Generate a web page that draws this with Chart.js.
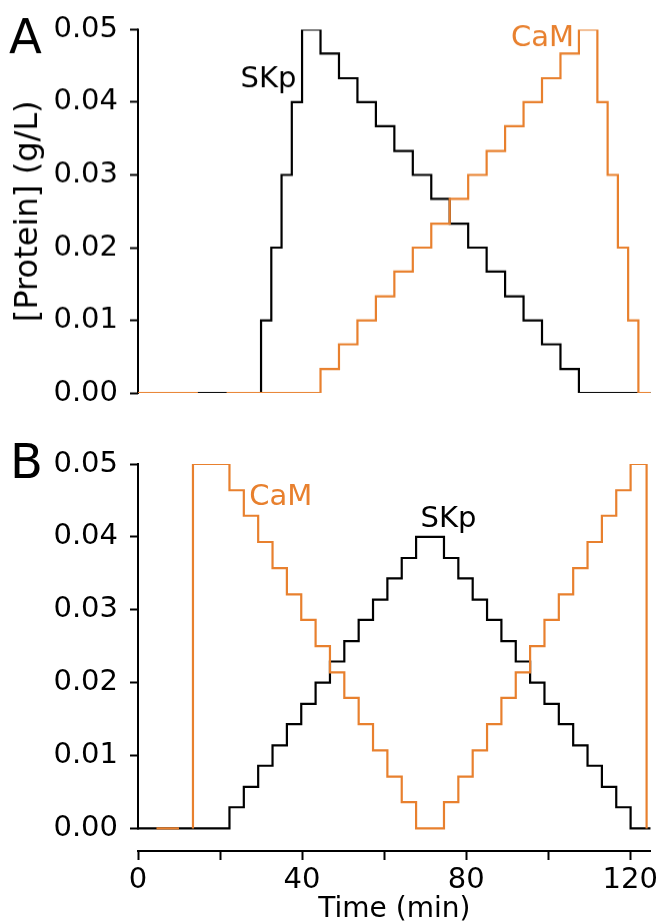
<!DOCTYPE html>
<html>
<head>
<meta charset="utf-8">
<script src="https://cdn.jsdelivr.net/npm/chart.js@4.4.0/dist/chart.umd.min.js"></script>
<style>
  html, body { margin: 0; padding: 0; background: #fff; }
  body { width: 657px; height: 923px; position: relative; overflow: hidden; }
  .panel { position: absolute; left: 0; width: 657px; }
  #wrapA { top: 0; height: 421.5px; }
  #wrapB { top: 430px; height: 493px; }
</style>
</head>
<body>
<div class="panel" id="wrapA"><canvas id="chartA"></canvas></div>
<div class="panel" id="wrapB"><canvas id="chartB"></canvas></div>
<script>
// step traces: time (min) where the level changes, level from that time on
// null = gap in the trace
const timeA_SKp = [0, 30, 32.5, 35, 37.5, 40, 44.5, 49, 53.5, 58, 62.5, 67, 71.5, 76, 80.5, 85, 89.5, 94, 98.5, 103, 107.5, 125];
const levelA_SKp = [0, 0.01, 0.02, 0.03, 0.04, 0.05, 0.0467, 0.0433, 0.04, 0.0367, 0.0333, 0.03, 0.0267, 0.0233, 0.02, 0.0167, 0.0133, 0.01, 0.0067, 0.0033, 0, 0];

const timeA_CaM = [0, 14.6, 18, 21.6, 44.5, 49, 53.5, 58, 62.5, 67, 71.5, 76, 80.5, 85, 89.5, 94, 98.5, 103, 107.5, 112, 114.5, 117, 119.5, 122, 125];
const levelA_CaM = [0, 0, null, 0, 0.0033, 0.0067, 0.01, 0.0133, 0.0167, 0.02, 0.0233, 0.0267, 0.03, 0.0333, 0.0367, 0.04, 0.0433, 0.0467, 0.05, 0.04, 0.03, 0.02, 0.01, 0, 0];

const timeB_SKp = [0, 22.3, 25.8, 29.3, 32.8, 36.3, 39.8, 43.3, 46.8, 50.3, 53.8, 57.3, 60.8, 64.3, 67.8, 74.6, 78.1, 81.6, 85.1, 88.6, 92.1, 95.6, 99.1, 102.6, 106.1, 109.6, 113.1, 116.6, 120.1, 125];
const levelB_SKp = [0, 0.0029, 0.0057, 0.0086, 0.0114, 0.0143, 0.0171, 0.02, 0.0229, 0.0257, 0.0286, 0.0314, 0.0343, 0.0371, 0.04, 0.0371, 0.0343, 0.0314, 0.0286, 0.0257, 0.0229, 0.02, 0.0171, 0.0143, 0.0114, 0.0086, 0.0057, 0.0029, 0, 0];

const timeB_CaM = [4.5, 10, 12, 13.4, 13.4, 22.3, 25.8, 29.3, 32.8, 36.3, 39.8, 43.3, 46.8, 50.3, 53.8, 57.3, 60.8, 64.3, 67.8, 74.6, 78.1, 81.6, 85.1, 88.6, 92.1, 95.6, 99.1, 102.6, 106.1, 109.6, 113.1, 116.6, 120.1, 124];
const levelB_CaM = [0, 0, null, 0, 0.05, 0.0464, 0.0429, 0.0393, 0.0357, 0.0321, 0.0286, 0.025, 0.0214, 0.0179, 0.0143, 0.0107, 0.0071, 0.0036, 0, 0.0036, 0.0071, 0.0107, 0.0143, 0.0179, 0.0214, 0.025, 0.0286, 0.0321, 0.0357, 0.0393, 0.0429, 0.0464, 0.05, 0];

const yTicks = [0, 0.01, 0.02, 0.03, 0.04, 0.05];
const xTicks = [0, 20, 40, 60, 80, 100, 120];
const xTickLabels = ['0', '', '40', '', '80', '', '120'];

const FONT = '"DejaVu Sans", sans-serif';
const ORANGE = 'rgb(232,128,46)';
const INK = '#000';

function pts(t, v){ return t.map((x, i) => ({ x, y: v[i] })); }

function trace(data, color){
  return { data, borderColor: color, borderWidth: 2.2, stepped: 'before', pointRadius: 0, fill: false, spanGaps: false };
}

// y axis line only over 0..0.05 (the x axis in B sits apart from it)
const yAxisLine = {
  id: 'yAxisLine',
  beforeDatasetsDraw(chart){
    const { ctx } = chart; const y = chart.scales.y;
    ctx.save();
    ctx.strokeStyle = INK; ctx.lineWidth = 2;
    ctx.beginPath();
    ctx.moveTo(y.right, y.getPixelForValue(0) + 1);
    ctx.lineTo(y.right, y.getPixelForValue(0.05) - 1);
    ctx.stroke();
    ctx.restore();
  }
};

const panelText = {
  id: 'panelText',
  afterDatasetsDraw(chart, args, opts){
    const { ctx } = chart; const { x, y } = chart.scales;
    ctx.save();
    ctx.textBaseline = 'alphabetic';
    (opts.items || []).forEach(it => {
      ctx.font = it.size + 'px ' + FONT;
      ctx.fillStyle = it.color;
      ctx.textAlign = it.align || 'center';
      const px = it.px != null ? it.px : x.getPixelForValue(it.x);
      const py = it.py != null ? it.py : y.getPixelForValue(it.y);
      ctx.fillText(it.text, px, py);
    });
    ctx.restore();
  }
};

function makePanel(id, datasets, o){
  return new Chart(document.getElementById(id), {
    type: 'line',
    data: { datasets },
    options: {
      responsive: true,
      maintainAspectRatio: false,
      animation: false,
      layout: { padding: o.padding },
      plugins: { legend: { display: false }, tooltip: { enabled: false }, panelText: { items: o.texts } },
      scales: {
        x: {
          type: 'linear', min: 0, max: 125,
          display: o.showX,
          afterBuildTicks: s => { s.ticks = xTicks.map(v => ({ value: v })); },
          afterFit: s => {
            if (o.showX) s.height = 72;
            s.paddingLeft = 0; s.paddingRight = 0; // keep the same plot width in both panels
          },
          ticks: {
            autoSkip: false, maxRotation: 0, padding: 3,
            color: INK, font: { family: FONT, size: 29 },
            callback: (v, i) => xTickLabels[i]
          },
          grid: { drawOnChartArea: false, tickLength: 9, tickWidth: 2, tickColor: INK },
          border: { display: true, color: INK, width: 2 },
          title: { display: true, text: 'Time (min)', color: INK, font: { family: FONT, size: 28 }, padding: { top: 0, bottom: -4 } }
        },
        y: {
          type: 'linear', min: o.yMin, max: 0.05,
          afterBuildTicks: s => { s.ticks = yTicks.map(v => ({ value: v })); },
          afterFit: s => { s.width = 138; },
          ticks: {
            padding: 12, color: INK, font: { family: FONT, size: 29 },
            callback: v => v.toFixed(2)
          },
          grid: { drawOnChartArea: false, tickLength: 8, tickWidth: 2, tickColor: INK },
          border: { display: false },
          title: { display: o.showYTitle, text: '[Protein] (g/L)', color: INK, font: { family: FONT, size: 32 }, padding: { top: 9, bottom: 0 } }
        }
      }
    },
    plugins: [yAxisLine, panelText]
  });
}

makePanel('chartA', [
  trace(pts(timeA_CaM, levelA_CaM), ORANGE),
  trace(pts(timeA_SKp, levelA_SKp), INK)
], {
  padding: { top: 28.5, bottom: 18.5, left: 0, right: 6.3 },
  showX: false, showYTitle: true, yMin: 0,
  texts: [
    { text: 'A', px: 9, py: 53, size: 48, color: INK, align: 'left' },
    { text: 'SKp', x: 31.8, y: 0.042, size: 29, color: INK },
    { text: 'CaM', x: 98.6, y: 0.0477, size: 29, color: ORANGE }
  ]
});

makePanel('chartB', [
  trace(pts(timeB_CaM, levelB_CaM), ORANGE),
  trace(pts(timeB_SKp, levelB_SKp), INK)
], {
  padding: { top: 34, bottom: 0, left: 0, right: 6.3 },
  showX: true, showYTitle: false, yMin: -0.0031,
  texts: [
    { text: 'B', px: 10, py: 48, size: 48, color: INK, align: 'left' },
    { text: 'CaM', x: 34.8, y: 0.0444, size: 29, color: ORANGE },
    { text: 'SKp', x: 75.7, y: 0.0414, size: 29, color: INK }
  ]
});
</script>
</body>
</html>
